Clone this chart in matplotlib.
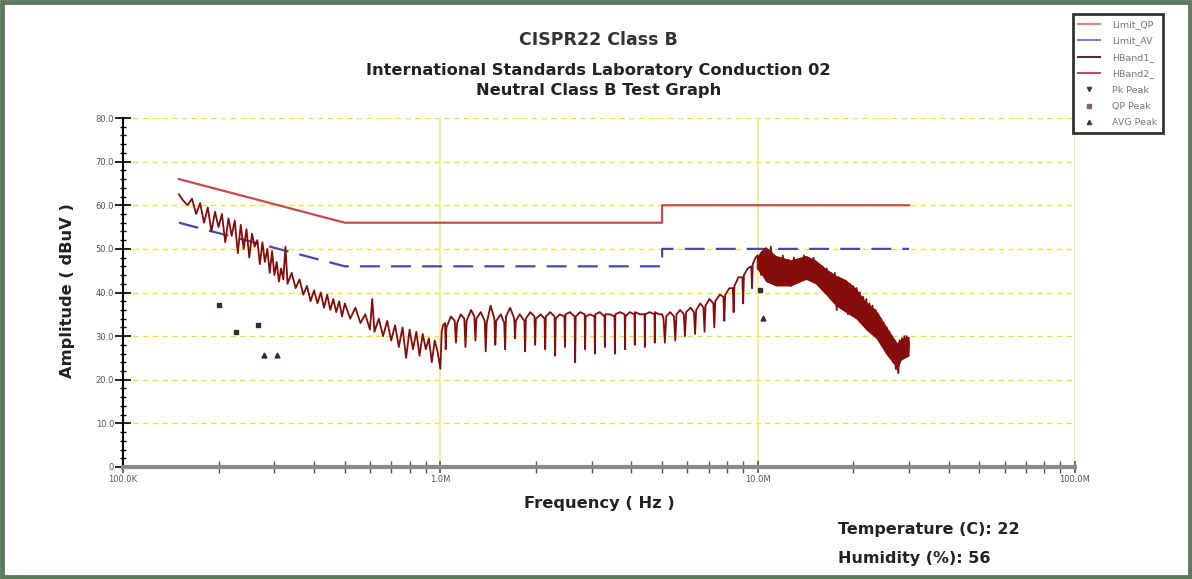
import matplotlib
matplotlib.use("Agg")
import matplotlib.pyplot as plt
from matplotlib.lines import Line2D
from matplotlib.patches import Rectangle
from matplotlib.ticker import FixedLocator, FixedFormatter, NullFormatter

plt.rcParams['font.family'] = ['DejaVu Sans']

# ---------------- data ----------------
# Limit lines (MHz, dBuV)
limit_freq_mhz = [0.15, 0.5, 5.0, 5.0, 30.0]
limit_qp = [66, 56, 56, 60, 60]
limit_av = [56, 46, 46, 50, 50]

trace_freq_mhz = [
    0.150, 0.155, 0.160, 0.165, 0.170, 0.175, 0.180, 0.185, 0.190, 0.195,
    0.200, 0.205, 0.210, 0.215, 0.220, 0.225, 0.230, 0.235, 0.240, 0.245,
    0.250, 0.255, 0.260, 0.265, 0.270, 0.275, 0.280, 0.285, 0.290, 0.295,
    0.300, 0.305, 0.310, 0.315, 0.320, 0.325, 0.330, 0.340, 0.350, 0.360,
    0.370, 0.380, 0.390,
    0.40, 0.41, 0.42, 0.43, 0.44, 0.45, 0.46, 0.47, 0.48, 0.49,
    0.50, 0.52, 0.54, 0.56, 0.58, 0.60, 0.61, 0.62, 0.64, 0.66,
    0.68, 0.70, 0.72, 0.74, 0.76, 0.78, 0.80, 0.82, 0.84, 0.86,
    0.88, 0.90, 0.92, 0.94, 0.96, 0.98, 1.00,
    1.01, 1.02,
    1.035, 1.04, 1.045, 1.08,
    1.11, 1.12, 1.13, 1.16,
    1.19, 1.20, 1.21, 1.25,
    1.28, 1.29, 1.30, 1.34,
    1.38, 1.39, 1.40, 1.44,
    1.48, 1.49, 1.50, 1.55,
    1.59, 1.60, 1.61, 1.66,
    1.71, 1.72, 1.73, 1.78,
    1.84, 1.85, 1.86, 1.92,
    1.98, 1.99, 2.00, 2.07,
    2.13, 2.14, 2.15, 2.22,
    2.29, 2.30, 2.31, 2.38,
    2.46, 2.47, 2.48, 2.56,
    2.65, 2.66, 2.67, 2.76,
    2.85, 2.86, 2.87, 2.96,
    3.06, 3.07, 3.08, 3.18,
    3.29, 3.30, 3.31, 3.42,
    3.54, 3.55, 3.56, 3.68,
    3.81, 3.82, 3.83, 3.95,
    4.09, 4.10, 4.11, 4.25,
    4.40, 4.41, 4.42, 4.57,
    4.73, 4.74, 4.75, 4.88,
    5.00, 5.05, 5.10, 5.15, 5.30,
    5.45, 5.50, 5.55, 5.70,
    5.85, 5.90, 5.95, 6.15,
    6.30, 6.35, 6.40, 6.60,
    6.75, 6.80, 6.85, 7.05,
    7.25, 7.30, 7.35, 7.60,
    7.80, 7.85, 7.90, 8.15,
    8.35, 8.40, 8.45, 8.70,
    8.95, 9.00, 9.05, 9.30,
    9.55, 9.60, 9.65, 9.85,
    10.00, 10.25, 10.50, 10.75, 11.00, 11.25, 11.50, 11.75, 12.00, 12.25,
    12.50, 12.75, 13.00, 13.25, 13.50, 13.75, 14.00, 14.25, 14.50, 14.75,
    15.00, 15.25, 15.50, 15.75, 16.00, 16.25, 16.50, 16.75, 17.00, 17.25,
    17.50, 17.75, 18.00, 18.25, 18.50, 18.75, 19.00, 19.25, 19.50, 19.75,
    20.00, 20.25, 20.50, 20.75, 21.00, 21.25, 21.50, 21.75, 22.00, 22.25,
    22.50, 22.75, 23.00, 23.25, 23.50, 23.75, 24.00, 24.25, 24.50, 24.75,
    25.00, 25.25, 25.50, 25.75, 26.00, 26.25, 26.50, 26.75, 27.00, 27.25,
    27.50, 27.75, 28.00, 28.25, 28.50, 28.75, 29.00, 29.25, 29.50, 29.75,
    30.00,
]
trace_level = [
    62.5, 61.0, 60.0, 61.5, 58.0, 60.5, 56.0, 59.5, 54.0, 58.5,
    55.0, 58.0, 51.5, 57.0, 53.0, 56.5, 49.0, 55.5, 50.0, 54.5,
    48.0, 53.5, 50.5, 52.0, 46.5, 51.5, 47.0, 50.0, 44.5, 49.5,
    44.0, 47.0, 42.5, 45.5, 43.0, 50.5, 42.0, 44.5, 41.0, 43.0,
    39.5, 41.5, 38.0,
    40.5, 37.5, 40.0, 36.5, 39.5, 36.0, 38.5, 35.5, 38.0, 34.5,
    37.5, 34.0, 36.5, 33.0, 35.0, 31.5, 38.5, 31.0, 34.0, 30.0,
    33.5, 29.0, 32.5, 27.5, 32.0, 25.0, 31.5, 27.0, 31.0, 25.5,
    30.5, 27.0, 29.5, 24.0, 29.0, 26.5, 22.5,
    31.0, 32.5,
    33.0, 27.0, 32.0, 34.5,
    33.5, 28.5, 33.0, 35.0,
    34.0, 27.5, 33.5, 36.0,
    34.5, 29.0, 34.0, 35.5,
    33.5, 26.5, 33.0, 37.0,
    34.0, 28.0, 33.5, 35.0,
    33.0, 27.0, 34.5, 36.5,
    34.0, 29.5, 33.5, 35.0,
    33.5, 26.5, 34.0, 35.5,
    34.5, 28.0, 34.0, 35.0,
    34.0, 27.0, 34.5, 35.5,
    34.5, 25.5, 34.0, 35.0,
    34.5, 27.5, 35.0, 35.5,
    34.5, 24.0, 34.5, 35.5,
    35.0, 27.0, 34.5, 35.0,
    34.5, 26.0, 35.0, 35.5,
    34.5, 27.5, 35.0, 35.0,
    34.5, 26.0, 35.0, 35.5,
    35.0, 27.0, 34.5, 35.5,
    35.0, 28.0, 35.5, 35.0,
    35.0, 27.5, 35.0, 35.5,
    35.0, 28.5, 35.5, 35.0,
    35.0, 34.0, 28.5, 34.5, 35.5,
    34.5, 29.0, 35.0, 36.0,
    35.0, 30.0, 35.5, 36.5,
    35.5, 30.5, 36.0, 37.5,
    36.5, 31.0, 37.0, 38.5,
    37.5, 32.0, 38.0, 39.5,
    39.0, 33.5, 39.5, 41.0,
    41.0, 35.5, 41.5, 43.5,
    43.5, 37.5, 44.0, 45.5,
    46.0, 41.0, 46.5, 48.0,
    48.5, 44.0, 50.0, 43.5, 50.5, 44.5, 48.0, 42.0, 48.5, 42.5,
    47.5, 41.5, 48.0, 42.5, 47.0, 43.0, 48.5, 44.0, 47.5, 43.0,
    48.0, 43.5, 46.5, 41.5, 46.0, 40.5, 45.5, 40.0, 44.5, 39.5,
    44.5, 36.0, 43.5, 37.5, 43.0, 36.5, 42.5, 35.0, 42.0, 36.5,
    41.5, 34.5, 41.0, 35.0, 40.0, 34.0, 39.0, 33.5, 38.5, 32.0,
    37.5, 32.0, 37.0, 31.0, 36.0, 30.5, 35.0, 29.5, 34.0, 28.0,
    33.0, 27.5, 32.0, 26.5, 31.0, 25.0, 30.0, 24.0, 29.0, 22.5,
    28.0, 21.5, 29.0, 24.5, 29.5, 25.5, 30.0, 26.0, 30.0, 25.5,
    28.5,
]

# Dense band envelope of the trace between 10 and 30 MHz (MHz, dBuV)
band_freq_mhz = [9.9, 10.2, 10.6, 11.4, 12.7, 14.2, 15.2, 16.4, 17.6, 18.9,
                 20.4, 21.9, 23.6, 25.3, 26.9, 27.5, 28.3, 30.0]
band_upper = [48.0, 49.5, 50.5, 48.5, 47.5, 48.5, 47.5, 45.5, 44.0, 43.0,
              41.0, 38.0, 36.0, 32.5, 29.5, 28.5, 29.5, 30.0]
band_lower = [45.5, 44.5, 42.5, 41.5, 41.5, 43.0, 42.0, 39.5, 37.0, 35.5,
              34.0, 31.5, 29.5, 26.0, 23.5, 22.0, 24.5, 25.5]

# Peak markers
qp_peak_freq_mhz = [0.200, 0.227, 0.267, 10.2]
qp_peak_level = [37.1, 30.9, 32.5, 40.6]
avg_peak_freq_mhz = [0.279, 0.306, 10.37]
avg_peak_level = [25.7, 25.7, 34.2]

x_tick_hz = [1e5, 1e6, 1e7, 1e8]
x_tick_labels = ["100.0K", "1.0M", "10.0M", "100.0M"]
y_tick_vals = [0, 10, 20, 30, 40, 50, 60, 70, 80]
y_tick_labels = ["0", "10.0", "20.0", "30.0", "40.0", "50.0", "60.0", "70.0", "80.0"]

legend_labels = ["Limit_QP", "Limit_AV", "HBand1_", "HBand2_", "Pk Peak", "QP Peak", "AVG Peak"]

# ---------------- figure ----------------
fig = plt.figure(figsize=(11.92, 5.79), dpi=100)
fig.patch.set_facecolor("white")
fig.patches.append(Rectangle((0.002, 0.003), 0.996, 0.994, transform=fig.transFigure,
                             fill=False, edgecolor="#5d7a5d", lw=3.5, zorder=0))

ax = fig.add_axes([123 / 1192, 1 - 467 / 579, (1075 - 123) / 1192, (467 - 118) / 579])
ax.set_xscale("log")
ax.set_xlim(1e5, 1e8)
ax.set_ylim(0, 80)

mhz = 1e6
trace_color = "#860b0b"
# grid
for y in y_tick_vals[1:]:
    ax.axhline(y, color="#e6e63a", lw=1.0, ls=(0, (4, 3)), zorder=1)
for x in [1e6, 1e7, 1e8]:
    ax.axvline(x, color="#f0f07a", lw=1.2, zorder=1)

ax.plot([f * mhz for f in limit_freq_mhz], limit_qp, color="#c84a48", lw=1.6, zorder=3)
ax.plot([f * mhz for f in limit_freq_mhz], limit_av, color="#4a4aa6", lw=1.6,
        ls=(0, (9, 5)), zorder=3)
ax.fill_between([f * mhz for f in band_freq_mhz], band_lower, band_upper,
                color=trace_color, lw=0, zorder=4)
ax.plot([f * mhz for f in trace_freq_mhz], trace_level, color=trace_color, lw=1.3,
        zorder=4)
ax.plot([f * mhz for f in qp_peak_freq_mhz], qp_peak_level, ls="none", marker="s",
        ms=3.5, color="#3a2a2a", zorder=5)
ax.plot([f * mhz for f in avg_peak_freq_mhz], avg_peak_level, ls="none", marker="^",
        ms=3.5, color="#3a2a2a", zorder=5)

# spines and ticks
for s in ["top", "right"]:
    ax.spines[s].set_visible(False)
ax.spines["left"].set_color("black")
ax.spines["left"].set_linewidth(1.5)
ax.spines["bottom"].set_color("#8a8a8a")
ax.spines["bottom"].set_linewidth(3)

ax.yaxis.set_major_locator(FixedLocator(y_tick_vals))
ax.yaxis.set_major_formatter(FixedFormatter(y_tick_labels))
ax.yaxis.set_minor_locator(FixedLocator([v for v in range(0, 81, 2)]))
ax.tick_params(axis="y", which="major", direction="inout", length=11, width=1.2,
               labelsize=6, labelcolor="#555555", pad=1)
ax.tick_params(axis="y", which="minor", direction="inout", length=5, width=1.0)

ax.xaxis.set_major_locator(FixedLocator(x_tick_hz))
ax.xaxis.set_major_formatter(FixedFormatter(x_tick_labels))
minor_x = [m * d for d in [1e5, 1e6, 1e7] for m in range(2, 10)]
ax.xaxis.set_minor_locator(FixedLocator(minor_x))
ax.xaxis.set_minor_formatter(NullFormatter())
ax.tick_params(axis="x", which="major", direction="inout", length=9, width=1.2,
               color="#555555", labelsize=6, labelcolor="#555555", pad=1)
ax.tick_params(axis="x", which="minor", direction="inout", length=8, width=1.0,
               color="#555555")

# titles and labels
tcol = "#222222"
fs = 11.7
fig.text(0.502, 0.931, "CISPR22 Class B", ha="center", va="center",
         fontsize=12.5, fontweight="bold", color="#333333")
fig.text(0.502, 0.879, "International Standards Laboratory Conduction 02",
         ha="center", va="center", fontsize=fs, fontweight="bold", color=tcol)
fig.text(0.502, 0.844, "Neutral Class B Test Graph", ha="center", va="center",
         fontsize=fs, fontweight="bold", color=tcol)
fig.text(0.057, 0.499, "Amplitude ( dBuV )", rotation=90, ha="center", va="center",
         fontsize=fs, fontweight="bold", color=tcol)
fig.text(0.503, 0.131, "Frequency ( Hz )", ha="center", va="center",
         fontsize=fs, fontweight="bold", color=tcol)
fig.text(0.703, 0.085, "Temperature (C): 22", ha="left", va="center",
         fontsize=11.5, fontweight="bold", color=tcol)
fig.text(0.703, 0.036, "Humidity (%): 56", ha="left", va="center",
         fontsize=11.5, fontweight="bold", color=tcol)

# legend
handles = [
    Line2D([], [], color="#e08080", lw=1.5),
    Line2D([], [], color="#8080c8", lw=1.5),
    Line2D([], [], color="#503030", lw=1.5),
    Line2D([], [], color="#b05060", lw=1.5),
    Line2D([], [], ls="none", marker="v", ms=3, color="#503030"),
    Line2D([], [], ls="none", marker="s", ms=3, color="#806070"),
    Line2D([], [], ls="none", marker="^", ms=3, color="#503030"),
]
leg = fig.legend(handles, legend_labels, loc="upper left", bbox_to_anchor=(0.900, 0.975),
                 fontsize=6.8, frameon=True, fancybox=False, edgecolor="black",
                 labelspacing=0.78, handlelength=2.3, borderpad=0.6, handletextpad=1.3,
                 borderaxespad=0, labelcolor="#777777")
leg.get_frame().set_linewidth(2)

fig.savefig("out.png", dpi=100, facecolor="white")
